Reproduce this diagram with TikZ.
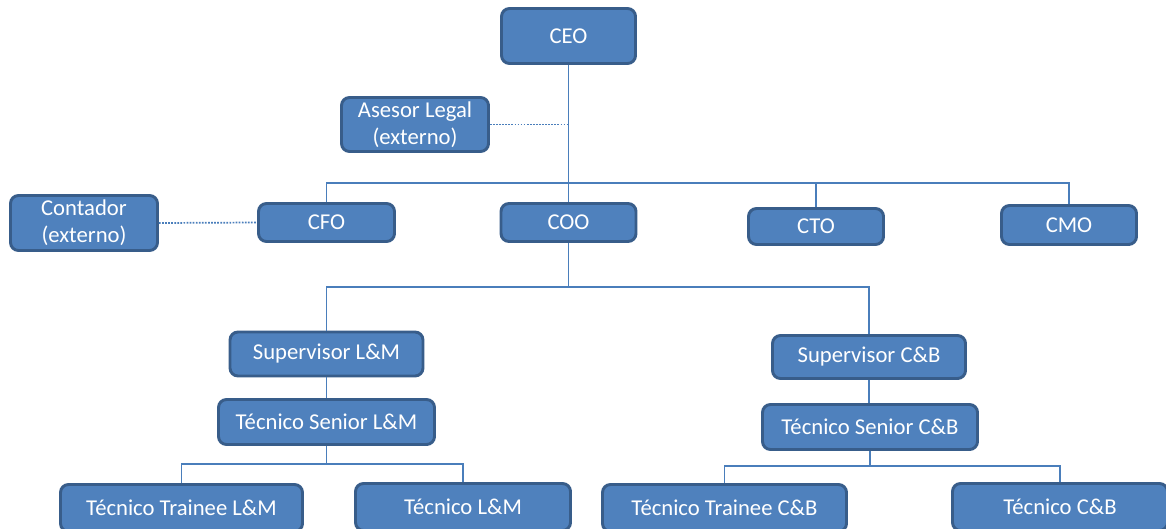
\documentclass[tikz,border=0pt]{standalone}
\usepackage{fontspec}
\setmainfont{Carlito}
\definecolor{boxfill}{HTML}{4F81BD}
\definecolor{boxedge}{HTML}{385D8A}
\definecolor{linkblue}{HTML}{4A7EBB}
\begin{document}
\begin{tikzpicture}[x=0.75pt,y=-0.75pt,
  orgbox/.style={draw=boxedge, fill=boxfill, line width=2.2pt, rounded corners=6pt,
    text=white, font=\fontsize{17}{20}\selectfont, align=center, inner sep=0pt},
  link/.style={draw=linkblue, line width=1.1pt},
  extlink/.style={draw=linkblue, line width=1.3pt, densely dotted}]
\clip (0,0) rectangle (1166,528);
\fill[white] (0,0) rectangle (1166,528);
% box helper: name, centre x, centre y, outer width, outer height (px), text
\newcommand{\orgnode}[6]{%
  \node[orgbox, minimum width={(#4-3)*0.75pt}, minimum height={(#5-3)*0.75pt}] (#1) at (#2,#3) {#6};}
\orgnode{ceo}{568.5}{36}{137}{58}{CEO}
\orgnode{legal}{415}{124.5}{150}{57}{Asesor Legal\\(externo)}
\orgnode{cont}{84}{223}{150}{58}{Contador\\(externo)}
\orgnode{cfo}{326.5}{222.5}{139}{41}{CFO}
\orgnode{coo}{568.5}{222.5}{138}{41}{COO}
\orgnode{cto}{816}{226.5}{138}{39}{CTO}
\orgnode{cmo}{1069}{225}{138}{42}{CMO}
\orgnode{suplm}{326.5}{354}{196}{47}{Supervisor L\&M}
\orgnode{tslm}{326.5}{422}{219}{48}{Técnico Senior L\&M}
\orgnode{supcb}{869}{357}{196}{46}{Supervisor C\&B}
\orgnode{tscb}{870}{427}{218}{48}{Técnico Senior C\&B}
\orgnode{ttlm}{181.5}{508}{245}{50}{Técnico Trainee L\&M}
\orgnode{tlm}{463}{507}{218}{50}{Técnico L\&M}
\orgnode{ttcb}{724.5}{508}{247}{50}{Técnico Trainee C\&B}
\orgnode{tcb}{1060}{507}{218}{50}{Técnico C\&B}
% junction points of the reporting buses
\coordinate (busTop) at (568.5,183);
\coordinate (busMid) at (568.5,287);
\coordinate (busLM) at (326.5,464);
\coordinate (busCB) at (870,466);
% reporting lines
\path[link] (ceo.south) -- (coo.north);
\path[link] (cfo.north) |- (busTop) -| (cmo.north);
\path[link] (cto.north) -- (cto.north |- busTop);
\path[link] (coo.south) -- (busMid);
\path[link] (suplm.north) |- (busMid) -| (supcb.north);
\path[link] (suplm.south) -- (tslm.north);
\path[link] (supcb.south) -- (supcb.south |- tscb.north);
\path[link] (tslm.south) -- (busLM);
\path[link] (ttlm.north) |- (busLM) -| (tlm.north);
\path[link] (tscb.south) -- (busCB);
\path[link] (ttcb.north) |- (busCB) -| (tcb.north);
% external advisors
\path[extlink] (legal.east) -- (legal.east -| ceo.south);
\path[extlink] (cont.east) -- (cfo.west);
\end{tikzpicture}
\end{document}
